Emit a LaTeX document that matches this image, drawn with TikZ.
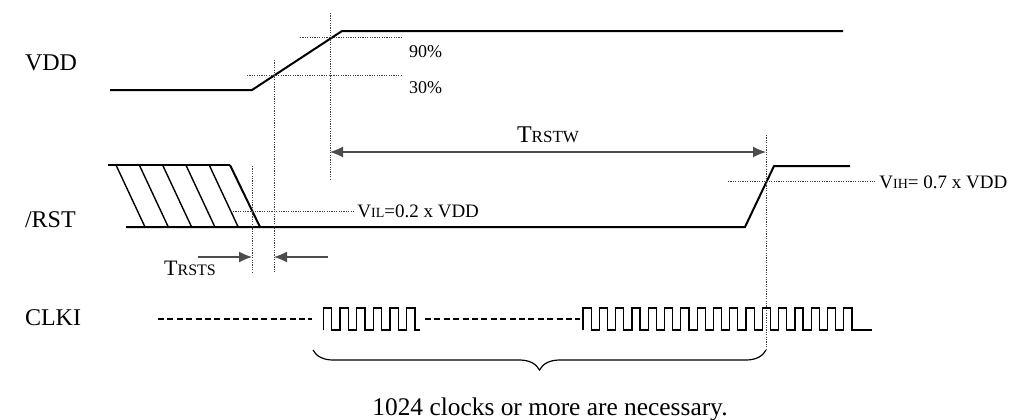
\documentclass[tikz,border=0pt]{standalone}
\usepackage{fontspec}
\setmainfont{Liberation Serif}
\usetikzlibrary{arrows.meta,decorations.pathreplacing}
\begin{document}
\begin{tikzpicture}[x=0.5pt,y=-0.5pt,>={Latex[length=6.5pt,width=5.5pt]},
  sig/.style={line width=1pt},
  hatch/.style={line width=0.7pt},
  clk/.style={line width=0.6pt},
  guide/.style={dash pattern=on 0.6pt off 0.6pt,line width=0.5pt,black!75},
  dim/.style={line width=0.6pt,black!70},
  labelfont/.style={font=\fontsize{12}{14}\selectfont},
  notefont/.style={font=\fontsize{9.5}{11}\selectfont},
  pctfont/.style={font=\fontsize{9}{11}\selectfont}]
\useasboundingbox (0,0) rectangle (1033,419);

\node[labelfont,anchor=west] (vdd) at (18,63) {VDD};
\node[labelfont,anchor=west] (rst) at (18,220) {/RST};
\node[labelfont,anchor=west] (clki) at (18,318) {CLKI};

% VDD
\draw[sig] (110,90) -- (252,90) -- (342,31) -- (843,31);
\draw[guide] (300,37) -- (403,37);
\draw[guide] (247,75) -- (403,75);
\node[pctfont,anchor=west] (p90) at (402,52) {90\%};
\node[pctfont,anchor=west] (p30) at (402,88) {30\%};

% /RST
\draw[sig] (108,165) -- (230,165);
\foreach \k in {0,...,4}
{
    \draw[hatch] (116+23.3*\k,165) -- ++(29,62);
}
\draw[sig] (230,165) -- (260,227);
\draw[sig] (126,227) -- (745,227) -- (774,166) -- (850,166);

% timing marks
\coordinate (rsts) at (252,257);
\coordinate (vdd30) at (274,257);
\coordinate (vdd90) at (330,152);
\coordinate (vih) at (766,152);

\draw[guide] (252,166) -- (252,272);
\draw[guide] (274,60) -- (274,272);
\draw[guide] (330,13) -- (330,180);
\draw[guide] (766,135) -- (766,350);

\draw[guide] (233,211) -- (355,211);
\node[notefont,anchor=west,inner sep=1pt] (vil) at (355,211) {V{\fontsize{7}{8}\selectfont IL}=0.2 x VDD};
\draw[guide] (728,181) -- (875,181);
\node[notefont,anchor=west,inner sep=1pt] (vihtext) at (877,182) {V{\fontsize{7}{8}\selectfont IH}= 0.7 x VDD};

% TRSTW
\draw[dim,<->] (vdd90) -- node[labelfont,text=black,above=1pt] {T{\fontsize{8.5}{10}\selectfont RSTW}} (vih);

% TRSTS
\draw[dim,->] ([xshift=-27pt]rsts) -- (rsts);
\draw[dim,->] ([xshift=27pt]vdd30) -- (vdd30);
\node[font=\fontsize{11}{13}\selectfont] (trsts) at (190,268) {T{\fontsize{8}{9}\selectfont RSTS}};

% CLKI
\draw[sig,dash pattern=on 3pt off 1.7pt] (158,319) -- (312,319);
\draw[sig,dash pattern=on 3pt off 1.7pt] (425,319) -- (580,319);
\draw[clk] (323.3,330) \foreach \k in {0,...,4}{ -- ++(0,-22) -- ++(8.33,0) -- ++(0,22) -- ++(8.33,0)}
    -- ++(0,-22) -- ++(8.33,0) -- ++(0,22) -- (420,330);
\draw[clk] (583,330) \foreach \k in {0,...,15}{ -- ++(0,-22) -- ++(8.15,0) -- ++(0,22) -- ++(8.15,0)}
    -- ++(0,-22) -- ++(8.15,0) -- ++(0,22) -- (872,330);

\draw[clk,decorate,decoration={brace,mirror,amplitude=10pt}] (313,350) -- (766,350);
\node[font=\fontsize{12.7}{15}\selectfont] (note) at (550,409) {1024 clocks or more are necessary.};
\end{tikzpicture}
\end{document}
